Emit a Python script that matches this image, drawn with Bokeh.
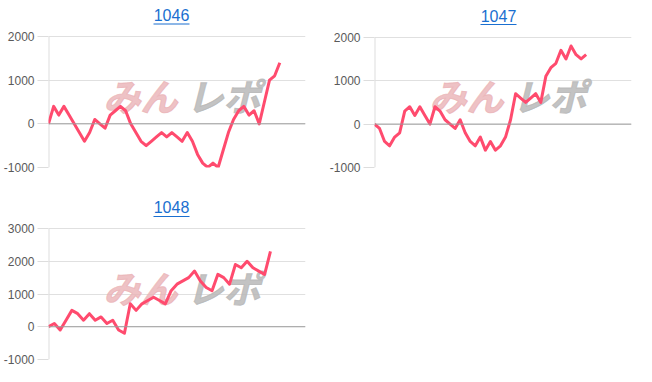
from bokeh.plotting import figure
from bokeh.layouts import column, row
from bokeh.models import Range1d, FixedTicker, Span, Label, BoxAnnotation
from bokeh.embed import file_html
from bokeh.resources import INLINE

# ---- data ----
titles = ["1046", "1047", "1048"]
series_1046 = [0, 400, 200, 400, 200, 0, -200, -400, -200, 100, 0, -100, 200, 300, 400, 300,
               0, -200, -400, -500, -400, -300, -200, -300, -200, -300, -400, -200, -400, -700,
               -900, -1000, -900, -1000, -600, -200, 100, 300, 400, 200, 300, 0, 500, 1000, 1100, 1400]
series_1047 = [0, -100, -400, -500, -300, -200, 300, 400, 200, 400, 200, 0, 400, 300, 100, 0,
               -100, 100, -200, -400, -500, -300, -600, -400, -600, -500, -300, 100, 700, 600,
               500, 600, 700, 500, 1100, 1300, 1400, 1700, 1500, 1800, 1600, 1500, 1600]
series_1048 = [0, 100, -100, 200, 500, 400, 200, 400, 200, 300, 100, 200, -100, -200, 700, 500,
               700, 800, 900, 800, 700, 1100, 1300, 1400, 1500, 1700, 1400, 1200, 1100, 1600,
               1500, 1300, 1900, 1800, 2000, 1800, 1700, 1600, 2300]
yticks_a = [-1000, 0, 1000, 2000]
yticks_b = [-1000, 0, 1000, 2000, 3000]
x_ends = [50, 51, 44]
watermark_a = "みん"
watermark_b = "レポ"

LINE = "#ff4b6e"
TITLE_C = "#1a6fd0"
FONT = "Liberation Sans"


def make_chart(title, ys, yticks, x_end, w, h, borders, title_pos, ul):
    left, right, grid_top, bottom = borders
    gh = h - bottom - grid_top          # pixel height of the gridded area
    span = yticks[-1] - yticks[0]
    y_top = yticks[-1] + grid_top * span / gh   # frame extends up to the figure top
    p = figure(width=w, height=h, output_backend="svg", toolbar_location=None,
               x_range=Range1d(0, x_end), y_range=Range1d(yticks[0], y_top),
               min_border_left=left, min_border_right=right,
               min_border_top=0, min_border_bottom=bottom,
               tools="")
    p.outline_line_color = None
    p.background_fill_color = "white"
    p.border_fill_color = "white"
    p.xaxis.visible = False
    p.xgrid.visible = False
    p.ygrid.grid_line_color = "#e0e0e0"
    p.yaxis.ticker = FixedTicker(ticks=yticks)
    p.yaxis.major_label_overrides = {t: str(t) for t in yticks}
    p.yaxis.minor_tick_line_color = None
    p.yaxis.major_tick_in = 0
    p.yaxis.major_tick_out = 11
    p.yaxis.major_tick_line_color = "#dddddd"
    p.yaxis.axis_line_color = None
    p.yaxis.major_label_standoff = 3
    p.yaxis.major_label_text_font = FONT
    p.yaxis.major_label_text_font_size = "12px"
    p.yaxis.major_label_text_color = "#5a5a5a"
    p.segment(x0=[0], y0=[yticks[0]], x1=[0], y1=[yticks[-1]], line_color="#dddddd", line_width=2)
    p.add_layout(Span(location=0, dimension="width", line_color="#9e9e9e", line_width=1))

    # watermark
    p.add_layout(Label(x=55, y=gh - 58, x_units="screen", y_units="screen",
                       text=watermark_a, text_font="Noto Sans CJK JP", text_font_style="bold italic",
                       text_font_size="37px", text_color="#eab2b6", text_alpha=0.8,
                       text_outline_color="#eab2b6",
                       text_baseline="middle", level="underlay"))
    p.add_layout(Label(x=138, y=gh - 58, x_units="screen", y_units="screen",
                       text=watermark_b, text_font="Noto Sans CJK JP", text_font_style="bold italic",
                       text_font_size="37px", text_color="#b8b8b8", text_alpha=0.85,
                       text_outline_color="#b8b8b8",
                       text_baseline="middle", level="underlay"))

    p.line(list(range(len(ys))), ys, line_color=LINE, line_width=3, line_join="round")

    # title (inside the extended frame, above the grid)
    tx, tty = title_pos
    p.add_layout(Label(x=tx - left, y=(h - bottom) - tty, x_units="screen", y_units="screen",
                       text=title, text_font=FONT, text_font_size="16px", text_color=TITLE_C,
                       text_align="center", text_baseline="top"))
    ux0, ux1, uy = ul
    p.add_layout(BoxAnnotation(left=ux0 - left, right=ux1 - left,
                               bottom=(h - bottom) - uy - 1, top=(h - bottom) - uy,
                               left_units="screen", right_units="screen",
                               top_units="screen", bottom_units="screen",
                               fill_color=TITLE_C, fill_alpha=1, line_color=None))
    return p


p1 = make_chart(titles[0], series_1046, yticks_a, x_ends[0], 326, 190, (45, 21, 36, 23),
                (168, 8.5), (150, 186, 23))
p2 = make_chart(titles[1], series_1047, yticks_a, x_ends[1], 326, 190, (46, 21, 37, 22),
                (170, 10), (152, 188, 24.5))
p3 = make_chart(titles[2], series_1048, yticks_b, x_ends[2], 326, 192, (45, 21, 38, 23),
                (168, 10.5), (150, 186, 25.5))

layout = column(row(p1, p2), p3)
open("out.html", "w").write(file_html(layout, INLINE))
